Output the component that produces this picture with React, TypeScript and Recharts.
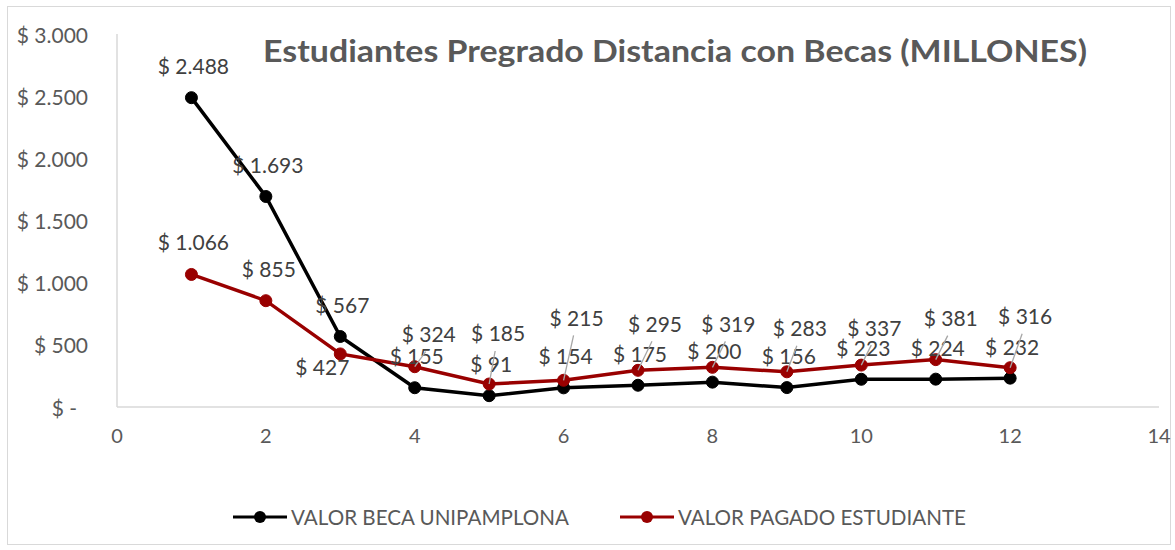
import React from "react";
import { LineChart, Line, XAxis, YAxis, LabelList } from "recharts";

const periods = [1, 2, 3, 4, 5, 6, 7, 8, 9, 10, 11, 12];
const becaValues = [2488, 1693, 567, 155, 91, 154, 175, 200, 156, 223, 224, 232];
const pagadoValues = [1066, 855, 427, 324, 185, 215, 295, 319, 283, 337, 381, 316];
const xTicks = [0, 2, 4, 6, 8, 10, 12, 14];
const yTicks = [0, 500, 1000, 1500, 2000, 2500, 3000];

const seriesNames = ["VALOR BECA UNIPAMPLONA", "VALOR PAGADO ESTUDIANTE"];

// label offsets (dx, dy) relative to each point, as placed in the original
const becaLabelOffsets = periods.map(() => [2, -32]);
const pagadoLabelOffsets = [
  [2, -33], [3, -32], [-18, 13], [14, -33], [9, -51], [13, -63],
  [17, -47], [16, -44], [13, -44], [13, -38], [15, -42], [15, -52],
];

const data = periods.map((p, i) => ({
  periodo: p,
  beca: becaValues[i],
  pagado: pagadoValues[i],
}));

const FONT = "Lato, 'Open Sans', sans-serif";
const BLACK = "#000000";
const RED = "#990000";

const money = (v: number) => (v === 0 ? "$ -" : `$ ${v.toLocaleString("de-DE")}`);

const makeLabel =
  (offsets: number[][], leader: boolean) => (props: any) => {
    const { index, value } = props;
    const x = props.x ?? props.viewBox?.x;
    const y = props.y ?? props.viewBox?.y;
    const [dx, dy] = offsets[index];
    const lx = x + dx;
    const ly = y + dy;
    const showLeader = leader && index >= 3;
    return (
      <g>
        {showLeader && (
          <line x1={x} y1={y} x2={lx - 3} y2={ly + 18} stroke="#a6a6a6" strokeWidth={1.3} />
        )}
        <text
          x={lx}
          y={ly}
          textAnchor="middle"
          dominantBaseline="central"
          fontFamily={FONT}
          fontSize={21}
          fill="#404040"
        >
          {money(value)}
        </text>
      </g>
    );
  };

const YTick = (props: any) => {
  const { x, y, payload } = props;
  const shift = payload.value === 0 ? -11 : 0;
  return (
    <text
      x={x + shift - 3}
      y={y}
      textAnchor="end"
      dominantBaseline="central"
      fontFamily={FONT}
      fontSize={21}
      fill="#595959"
    >
      {money(payload.value)}
    </text>
  );
};

const LegendIcon = ({ color }: { color: string }) => (
  <svg width={54} height={16} style={{ display: "block" }}>
    <line x1={0} y1={8} x2={54} y2={8} stroke={color} strokeWidth={3} />
    <circle cx={27} cy={8} r={6} fill={color} />
  </svg>
);

export default function App() {
  return (
    <div
      style={{
        position: "absolute",
        left: 7,
        top: 6,
        width: 1164,
        height: 539,
        border: "1px solid #d9d9d9",
        boxSizing: "border-box",
        background: "#fff",
      }}
    >
      <LineChart
        width={1164}
        height={539}
        data={data}
        margin={{ top: 27, right: 13, left: 0, bottom: 109 }}
      >
        <XAxis
          dataKey="periodo"
          type="number"
          domain={[0, 14]}
          ticks={xTicks}
          tickLine={false}
          axisLine={{ stroke: "#d9d9d9", strokeWidth: 1.5 }}
          tick={{ fill: "#595959", fontSize: 20, fontFamily: FONT }}
          tickMargin={16}
          height={30}
        />
        <YAxis
          type="number"
          domain={[0, 3000]}
          ticks={yTicks}
          tickLine={false}
          axisLine={{ stroke: "#d9d9d9", strokeWidth: 1.5 }}
          tick={<YTick />}
          tickMargin={20}
          width={109}
        />
        <Line
          dataKey="beca"
          name={seriesNames[0]}
          stroke={BLACK}
          strokeWidth={3.5}
          dot={{ r: 6, fill: BLACK, stroke: BLACK, strokeWidth: 1 }}
          isAnimationActive={false}
        >
          <LabelList dataKey="beca" content={makeLabel(becaLabelOffsets, false)} />
        </Line>
        <Line
          dataKey="pagado"
          name={seriesNames[1]}
          stroke={RED}
          strokeWidth={3.5}
          dot={{ r: 6, fill: RED, stroke: RED, strokeWidth: 1 }}
          isAnimationActive={false}
        >
          <LabelList dataKey="pagado" content={makeLabel(pagadoLabelOffsets, true)} />
        </Line>
      </LineChart>

      <svg
        width={1164}
        height={60}
        style={{ position: "absolute", left: 0, top: 13 }}
      >
        <text
          x={667}
          y={30}
          textAnchor="middle"
          dominantBaseline="central"
          fontFamily={FONT}
          fontWeight={700}
          fontSize={31}
          fill="#595959"
          textLength={824}
          lengthAdjust="spacingAndGlyphs"
        >
          Estudiantes Pregrado Distancia con Becas (MILLONES)
        </text>
      </svg>

      <div
        style={{
          position: "absolute",
          left: 225,
          top: 498,
          display: "flex",
          alignItems: "center",
          fontFamily: FONT,
          fontSize: 20.6,
          color: "#595959",
        }}
      >
        <LegendIcon color={BLACK} />
        <span style={{ marginLeft: 4 }}>{seriesNames[0]}</span>
        <span style={{ width: 51 }} />
        <LegendIcon color={RED} />
        <span style={{ marginLeft: 4 }}>{seriesNames[1]}</span>
      </div>
    </div>
  );
}
